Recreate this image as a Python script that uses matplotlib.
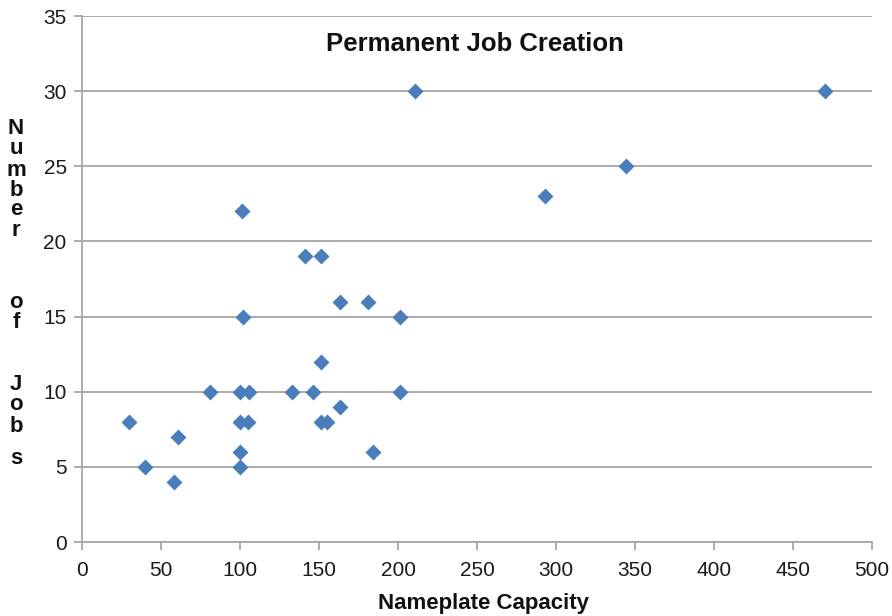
import numpy as np
import matplotlib
matplotlib.use('Agg')
import matplotlib.pyplot as plt

plt.rcParams['font.family'] = ['Liberation Sans', 'DejaVu Sans']

# nameplate capacity vs. number of permanent jobs
capacity = [30, 40, 58, 61, 81, 100, 100, 100, 105, 100, 106, 101, 102,
            133, 141, 151, 146, 151, 151, 155, 163, 163, 181, 184, 201, 201,
            211, 293, 344, 470]
jobs = [8, 5, 4, 7, 10, 6, 5, 8, 8, 10, 10, 22, 15,
        10, 19, 19, 10, 12, 8, 8, 9, 16, 16, 6, 15, 10,
        30, 23, 25, 30]

xticks = np.arange(0, 501, 50)
yticks = np.arange(0, 36, 5)

fig = plt.figure(figsize=(8.92, 6.16), dpi=100)
ax = fig.add_axes([82/892, 1 - 542/616, 790/892, 526/616])

ax.scatter(capacity, jobs, marker='D', s=66, color='#4a7ebb', zorder=3,
           linewidths=0)

ax.set_xlim(0, 500)
ax.set_ylim(0, 35)
ax.set_xticks(xticks)
ax.set_yticks(yticks)
ax.yaxis.grid(True, color='#a6a6a6', linewidth=1.3)
ax.set_axisbelow(True)
for s in ['top', 'right']:
    ax.spines[s].set_visible(False)
for s in ['left', 'bottom']:
    ax.spines[s].set_color('#a6a6a6')
    ax.spines[s].set_linewidth(1.3)
ax.tick_params(axis='both', direction='out', length=6, width=1.3,
               color='#a6a6a6', labelsize=15, labelcolor='#1a1a1a')
ax.tick_params(axis='x', pad=8)
ax.tick_params(axis='y', pad=5)

ax.text(0.497, 0.946, 'Permanent Job Creation', transform=ax.transAxes,
        ha='center', va='center', fontsize=18.5, fontweight='bold',
        color='#111111')

fig.text(484/892, 1 - 604/616, 'Nameplate Capacity', ha='center', va='center',
         fontsize=16, fontweight='bold', color='#111111')

# vertical, letter-by-letter y label
ylab = ['N', 'u', 'm', 'b', 'e', 'r', 'o', 'f', 'J', 'o', 'b', 's']
ypix = [128, 149, 170, 190, 210, 230, 303, 322, 384, 405, 426, 459]
for ch, yp in zip(ylab, ypix):
    fig.text(16/892, 1 - yp/616, ch, ha='center', va='center',
             fontsize=16, fontweight='bold', color='#111111')

fig.savefig('out.png', dpi=100)
